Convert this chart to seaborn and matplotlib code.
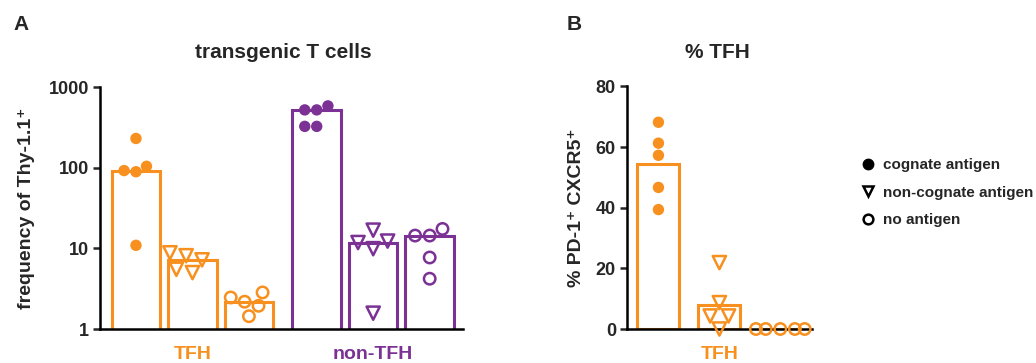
import numpy as np
import pandas as pd
import matplotlib
matplotlib.use("Agg")
import matplotlib.pyplot as plt
import seaborn as sns
from matplotlib.lines import Line2D

# ------------------------------------------
# Data
# ------------------------------------------

conditions = ["cognate antigen", "non-cognate antigen", "no antigen"]
subsets = ["TFH", "non-TFH"]

# panel A : frequency of Thy-1.1+ transgenic T cells (log scale)
tfh_cognate = [92, 89, 104, 230, 10.9]
tfh_noncognate = [8.8, 7.2, 8.1, 5.0, 5.5]
tfh_none = [2.46, 2.18, 2.84, 1.44, 1.94]
nontfh_cognate = [520, 520, 583, 325, 325]
nontfh_noncognate = [11.8, 16.8, 9.9, 12.3, 1.57]
nontfh_none = [17.4, 14.4, 14.4, 7.7, 4.2]

# panel B : % PD-1+ CXCR5+ (TFH)
pct_cognate = [68.2, 61.3, 57.3, 46.7, 39.4]
pct_noncognate = [21.9, 8.7, 4.3, 4.3, 0.0]
pct_none = [0.0, 0.0, 0.0, 0.0, 0.0]

# ------------------------------------------
# Styling
# ------------------------------------------

orange = "#F7901E"
purple = "#7B3294"
palette = {"TFH": orange, "non-TFH": purple}
markers = {"cognate antigen": "o", "non-cognate antigen": "v", "no antigen": "o"}
marker_size = {"cognate antigen": 8.2, "non-cognate antigen": 9.5, "no antigen": 8.2}
filled = {"cognate antigen": True, "non-cognate antigen": False, "no antigen": False}

sns.set_style("ticks")
plt.rcParams["font.family"] = ["Liberation Sans", "DejaVu Sans"]
plt.rcParams["font.weight"] = "bold"
plt.rcParams["axes.labelweight"] = "bold"

# ------------------------------------------
# Build tables
# ------------------------------------------

group_gap = 3.2

rows = []
panel_a = {
    ("TFH", "cognate antigen"): tfh_cognate,
    ("TFH", "non-cognate antigen"): tfh_noncognate,
    ("TFH", "no antigen"): tfh_none,
    ("non-TFH", "cognate antigen"): nontfh_cognate,
    ("non-TFH", "non-cognate antigen"): nontfh_noncognate,
    ("non-TFH", "no antigen"): nontfh_none,
}
for (sub, cond), vals in panel_a.items():
    for v in vals:
        rows.append({"subset": sub, "condition": cond, "value": v,
                     "pos": subsets.index(sub) * group_gap + conditions.index(cond)})
df_a = pd.DataFrame(rows)

rows = []
panel_b = {"cognate antigen": pct_cognate,
           "non-cognate antigen": pct_noncognate,
           "no antigen": pct_none}
for cond, vals in panel_b.items():
    for v in vals:
        rows.append({"subset": "TFH", "condition": cond, "value": v,
                     "pos": conditions.index(cond)})
df_b = pd.DataFrame(rows)


def add_points(ax, df):
    for cond in conditions:
        n0 = len(ax.collections)
        sns.swarmplot(
            data=df[df["condition"] == cond],
            x="pos", y="value",
            hue="subset", palette=palette,
            native_scale=True, dodge=False, legend=False,
            marker=markers[cond], size=marker_size[cond],
            ax=ax
        )
        for coll in ax.collections[n0:]:
            fc = coll.get_facecolors()
            coll.set_edgecolors(fc)
            if not filled[cond]:
                coll.set_facecolors("none")
                coll.set_linewidth(1.8)
            else:
                coll.set_linewidth(0)
            coll.set_zorder(4)
            coll.set_clip_on(False)


def style_axis(ax):
    sns.despine(ax=ax)
    for s in ["left", "bottom"]:
        ax.spines[s].set_linewidth(1.8)
        ax.spines[s].set_color("black")
    ax.tick_params(axis="y", length=5, width=1.8, labelsize=13, pad=3)
    ax.tick_params(axis="x", length=0, labelsize=14, pad=12)
    ax.minorticks_off()


fig = plt.figure(figsize=(10.36, 3.63), dpi=100)
W, H = 1036, 363

# ==========================================
# Panel A
# ==========================================

ax_a = fig.add_axes([100 / W, 1 - 329 / H, 363 / W, 242 / H])
ax_a.set_yscale("log")

sns.barplot(
    data=df_a, x="pos", y="value",
    hue="subset", palette=palette,
    native_scale=True, dodge=False,
    estimator="median", errorbar=None,
    fill=False, width=0.86, linewidth=2.2,
    legend=False, ax=ax_a
)
add_points(ax_a, df_a)

ax_a.set_ylim(1, 1000)
ax_a.set_xlim(-0.637, 5.79)
ax_a.set_yticks([1, 10, 100, 1000])
ax_a.set_yticklabels(["1", "10", "100", "1000"])
ax_a.set_xticks([1, group_gap + 1])
ax_a.set_xticklabels(subsets)
style_axis(ax_a)
for lab, sub in zip(ax_a.get_xticklabels(), subsets):
    lab.set_color(palette[sub])
    lab.set_fontweight("bold")
ax_a.set_xlabel("")
ax_a.set_ylabel("frequency of Thy-1.1\u207a", fontsize=14, labelpad=10)

fig.text(283 / W, 1 - 53 / H, "transgenic T cells",
         ha="center", va="center", fontsize=15, fontweight="bold")
fig.text(13 / W, 1 - 25 / H, "A", ha="left", va="center",
         fontsize=15, fontweight="bold")

# ==========================================
# Panel B
# ==========================================

ax_b = fig.add_axes([627 / W, 1 - 329 / H, 185 / W, 242.5 / H])

sns.barplot(
    data=df_b, x="pos", y="value",
    hue="subset", palette=palette,
    native_scale=True, dodge=False,
    estimator="mean", errorbar=None,
    fill=False, width=0.69, linewidth=2.2,
    legend=False, ax=ax_b
)
add_points(ax_b, df_b)

ax_b.set_ylim(0, 80)
ax_b.set_xlim(-0.516, 2.52)
ax_b.set_yticks([0, 20, 40, 60, 80])
ax_b.set_xticks([1])
ax_b.set_xticklabels(["TFH"])
style_axis(ax_b)
ax_b.get_xticklabels()[0].set_color(orange)
ax_b.set_xlabel("")
ax_b.set_ylabel("% PD-1\u207a CXCR5\u207a", fontsize=14, labelpad=8)

fig.text(567 / W, 1 - 25 / H, "B", ha="left", va="center",
         fontsize=15, fontweight="bold")
fig.text(717 / W, 1 - 53 / H, "% TFH",
         ha="center", va="center", fontsize=15, fontweight="bold")

# legend
handles = [
    Line2D([], [], marker="o", linestyle="none", color="black",
           markersize=7.5),
    Line2D([], [], marker="v", linestyle="none", color="black",
           markerfacecolor="none", markeredgewidth=1.8, markersize=7.5),
    Line2D([], [], marker="o", linestyle="none", color="black",
           markerfacecolor="none", markeredgewidth=1.8, markersize=7),
]
fig.legend(
    handles, conditions,
    loc="upper left", bbox_to_anchor=(860 / W, 1 - 158 / H),
    frameon=False, fontsize=11, handlelength=1.0,
    handletextpad=0.5, labelspacing=0.9, borderpad=0, borderaxespad=0
)

fig.savefig("out.png", dpi=100)
